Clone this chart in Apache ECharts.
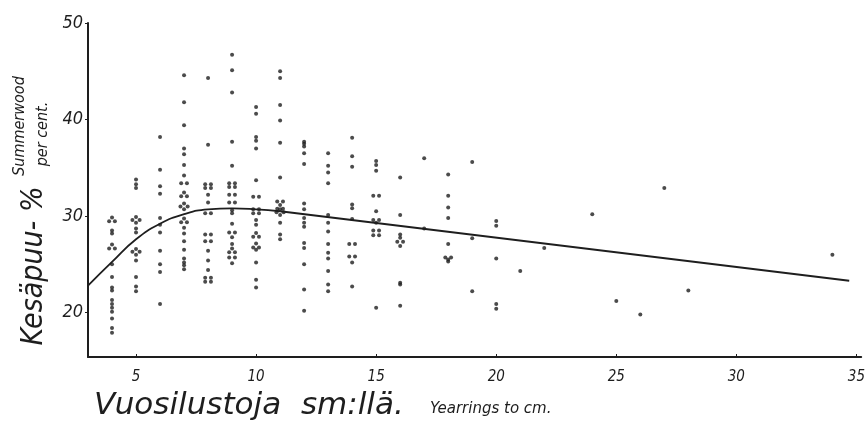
<!DOCTYPE html>
<html>
<head>
<meta charset="utf-8">
<script src="https://cdn.jsdelivr.net/npm/echarts@6/dist/echarts.min.js"></script>
<style>
  html, body { margin: 0; background: #fff; }
  #chart { width: 868px; height: 425px; }
</style>
</head>
<body>
<div id="chart"></div>
<script>
// Summerwood per cent by yearrings per cm, one array per column of dots
var c4 = [29.6, 29.6, 29.6, 28.5, 28.2, 26.8, 26.8, 26.8, 25.0, 23.7, 22.6, 22.3, 21.3, 20.9, 20.5, 20.1, 19.4, 18.4, 17.9];
var c5 = [33.8, 33.3, 32.9, 29.6, 29.6, 29.6, 29.6, 28.7, 28.3, 26.3, 26.3, 26.3, 26.3, 25.4, 23.7, 22.7, 22.2];
var c6 = [38.2, 34.8, 33.1, 32.3, 29.8, 29.1, 28.3, 26.4, 25.0, 24.2, 20.9];
var c7 = [44.6, 41.8, 39.4, 37.0, 36.4, 35.3, 34.2, 33.4, 33.4, 32.2, 32.2, 32.2, 31.0, 31.0, 31.0, 31.0,
          29.5, 29.5, 29.5, 28.8, 28.2, 27.4, 26.5, 25.6, 25.2, 24.9, 24.5];
var c8 = [44.3, 37.4, 33.3, 33.3, 32.9, 32.9, 32.2, 31.4, 30.3, 30.3, 28.1, 28.1, 27.4, 27.4, 26.4, 25.4,
          24.4, 23.6, 23.6, 23.2, 23.2];
var c9 = [46.7, 45.1, 42.8, 37.7, 35.2, 33.4, 33.4, 33.0, 33.0, 32.2, 32.2, 31.4, 31.4, 30.6, 30.3, 29.2,
          28.3, 28.3, 27.8, 27.1, 26.4, 26.4, 26.4, 25.7, 25.7, 25.1];
var c10 = [41.3, 40.6, 38.2, 37.8, 37.0, 33.7, 32.0, 32.0, 30.7, 30.7, 30.3, 30.3, 29.6, 29.1, 28.0, 28.0,
           28.0, 26.9, 26.9, 26.9, 26.5, 25.2, 23.4, 22.6];
var c11 = [45.0, 44.3, 41.5, 39.9, 37.6, 34.0, 31.5, 31.5, 30.9, 30.9, 30.9, 30.4, 30.4, 30.4, 30.4, 29.3, 28.1, 27.6];
var c12 = [37.7, 37.5, 37.2, 36.5, 35.4, 31.3, 30.7, 29.8, 29.3, 28.9, 27.2, 26.7, 25.0, 22.4, 20.2];
var c13 = [36.5, 35.2, 34.5, 33.4, 30.1, 29.3, 28.4, 27.1, 26.2, 25.6, 24.3, 22.9, 22.2];
var c14 = [38.1, 36.2, 35.1, 31.2, 30.8, 29.7, 27.1, 27.1, 25.8, 25.8, 25.2, 22.7];
var c15 = [35.7, 35.3, 34.7, 32.1, 32.1, 30.5, 29.6, 29.6, 29.3, 28.5, 28.5, 28.0, 28.0, 20.5];
var c16 = [34.0, 30.1, 28.1, 27.5, 27.5, 27.5, 26.9, 23.1, 22.9, 20.7];
var c17 = [36.0, 28.7];
var c18 = [34.3, 32.1, 30.9, 29.8, 27.1, 25.7, 25.7, 25.5, 25.3];
var c19 = [35.6, 27.7, 22.2];
var c20 = [29.5, 29.0, 25.6, 20.9, 20.4];

var columnX = [4, 5, 6, 7, 8, 9, 10, 11, 12, 13, 14, 15, 16, 17, 18, 19, 20];
var columns = [c4, c5, c6, c7, c8, c9, c10, c11, c12, c13, c14, c15, c16, c17, c18, c19, c20];

// single scattered observations on the right
var looseX = [21, 22, 24, 25, 26, 27, 28, 34];
var looseY = [24.3, 26.7, 30.2, 21.2, 19.8, 32.9, 22.3, 26.0];

// fitted curve: rising bend, then a straight fall
var bendX = [3, 4, 5, 6, 7, 8, 9, 10, 11];
var bendY = [22.8, 25.25, 27.6, 29.2, 30.2, 30.7, 30.8, 30.7, 30.5];
var fallX = [11, 34.7];
var fallY = [30.5, 23.3];

var xTicks = [5, 10, 15, 20, 25, 30, 35];
var yTicks = [20, 30, 40, 50];

// repeated readings are drawn as little groups of dots, like in the original
var groupShape = {
  1: [[0, 0]],
  2: [[-0.12, 0], [0.12, 0]],
  3: [[-0.12, -0.15], [0.12, -0.15], [0, 0.25]],
  4: [[-0.15, 0], [0.15, 0], [0, 0.3], [0, -0.3]]
};

var dots = [];
columns.forEach(function (ys, k) {
  var counts = {}, seen = {};
  ys.forEach(function (y) { counts[y] = (counts[y] || 0) + 1; });
  ys.forEach(function (y) {
    var i = seen[y] || 0;
    seen[y] = i + 1;
    var off = groupShape[counts[y]][i];
    dots.push([columnX[k] + off[0], y + off[1]]);
  });
});
looseX.forEach(function (x, i) { dots.push([x, looseY[i]]); });

function pairs(xs, ys) {
  return xs.map(function (x, i) { return [x, ys[i]]; });
}

var NARROW = "'DejaVu Sans Condensed', 'DejaVu Sans', sans-serif";
var WIDE = "'DejaVu Sans', sans-serif";
var INK = '#1e1e1e';

var chart = echarts.init(document.getElementById('chart'));
chart.setOption({
  backgroundColor: '#fff',
  animation: false,
  grid: { left: 88, right: 5, top: 23, bottom: 68 },
  xAxis: {
    type: 'value',
    min: 3,
    max: 35.2,
    splitLine: { show: false },
    axisLine: { lineStyle: { color: INK, width: 2 } },
    axisTick: { show: true, inside: true, length: 3, customValues: xTicks, lineStyle: { color: INK } },
    axisLabel: {
      customValues: xTicks,
      margin: 13,
      color: INK,
      fontFamily: NARROW,
      fontStyle: 'italic',
      fontSize: 15
    }
  },
  yAxis: {
    type: 'value',
    min: 15.4,
    max: 50,
    splitLine: { show: false },
    axisLine: { show: true, lineStyle: { color: INK, width: 2 } },
    axisTick: { show: true, length: 3, customValues: yTicks, lineStyle: { color: INK } },
    axisLabel: {
      customValues: yTicks,
      margin: 5,
      color: INK,
      fontFamily: NARROW,
      fontStyle: 'italic',
      fontSize: 18,
      padding: [0, 0, 6, 0]
    }
  },
  series: [
    {
      type: 'line',
      data: pairs(bendX, bendY),
      smooth: 0.5,
      showSymbol: false,
      lineStyle: { color: INK, width: 1.8 },
      z: 3
    },
    {
      type: 'line',
      data: pairs(fallX, fallY),
      showSymbol: false,
      lineStyle: { color: INK, width: 1.8 },
      z: 3
    },
    {
      type: 'scatter',
      data: dots,
      symbolSize: 4,
      itemStyle: { color: INK },
      z: 4
    }
  ],
  graphic: [
    {
      type: 'text', x: 34, y: 266, rotation: Math.PI / 2,
      style: { text: 'Kesäpuu- %', font: 'italic 30px ' + NARROW, fill: INK, align: 'center', verticalAlign: 'middle' }
    },
    {
      type: 'text', x: 20, y: 126, rotation: Math.PI / 2,
      style: { text: 'Summerwood', font: 'italic 16px ' + NARROW, fill: INK, align: 'center', verticalAlign: 'middle' }
    },
    {
      type: 'text', x: 43, y: 134, rotation: Math.PI / 2,
      style: { text: 'per cent.', font: 'italic 16px ' + NARROW, fill: INK, align: 'center', verticalAlign: 'middle' }
    },
    {
      type: 'text', x: 94, y: 406,
      style: { text: 'Vuosilustoja  sm:llä.', font: 'italic 31px ' + WIDE, fill: INK, align: 'left', verticalAlign: 'middle' }
    },
    {
      type: 'text', x: 430, y: 409,
      style: { text: 'Yearrings to cm.', font: 'italic 15px ' + WIDE, fill: INK, align: 'left', verticalAlign: 'middle' }
    }
  ]
});
</script>
</body>
</html>
